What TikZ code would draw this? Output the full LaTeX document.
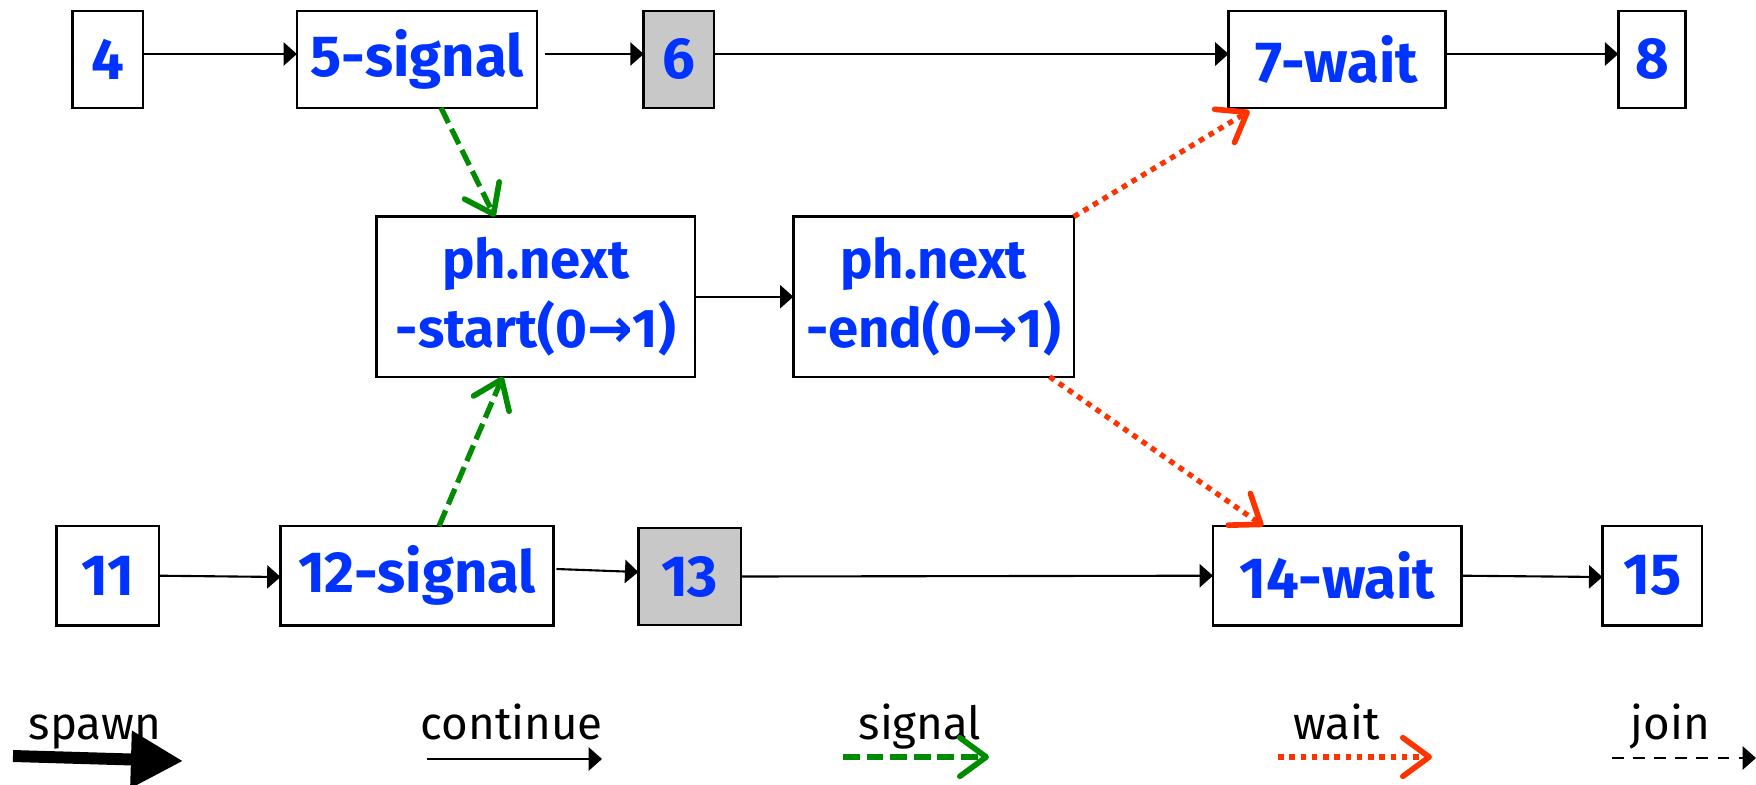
\documentclass[tikz,border=0pt]{standalone}
\usepackage{fontspec}
\setmainfont{Fira Sans}
\newfontfamily\arrowfont{DejaVu Sans}
\usetikzlibrary{arrows.meta}
\definecolor{txtblue}{HTML}{0033FF}
\definecolor{boxgray}{HTML}{C8C8C8}
\definecolor{sigreen}{HTML}{008C00}
\definecolor{waitred}{HTML}{FF3300}
\newcommand{\arr}{{\arrowfont\bfseries →}}
\begin{document}
\begin{tikzpicture}[x=0.01cm,y=-0.01cm,
  box/.style={draw=black,line width=0.7pt,inner sep=0pt,outer sep=0pt,
    minimum height=0.967cm,text=txtblue,
    font=\fontsize{16.5}{19}\selectfont\bfseries},
  midbox/.style={box,minimum height=1.6cm,align=center,
    font=\fontsize{15.5}{19.5}\selectfont\bfseries},
  greybox/.style={box,fill=boxgray},
  cont/.style={draw=black,line width=0.6pt,-{Triangle[length=3.8pt,width=6.6pt]}},
  sig/.style={draw=sigreen,line width=1.5pt,dash pattern=on 4.8pt off 1.9pt,
    -{Straight Barb[length=7.5pt,width=11pt,line width=1.6pt,round]}},
  waitarr/.style={draw=waitred,line width=1.5pt,dash pattern=on 1.6pt off 1.6pt,
    -{Straight Barb[length=7.5pt,width=11pt,line width=1.6pt,round]}},
  joinarr/.style={draw=black,line width=0.6pt,dash pattern=on 3.4pt off 2.6pt,
    -{Triangle[length=3.8pt,width=6.6pt]}},
  spawnarr/.style={draw=black,line width=3.4pt,-{Triangle[length=14.8pt,width=15.5pt]}},
  legend/.style={anchor=base west,inner sep=0pt,font=\fontsize{13}{15}\selectfont}
]
\useasboundingbox (0,0) rectangle (1756,784);

% top row
\node[box,minimum width=0.703cm] (n4) at (107.6,59.4) {4};
\node[box,minimum width=2.40cm] (n5) at (417,59.4) {5-signal};
\node[greybox,minimum width=0.702cm] (n6) at (678.8,59.4) {6};
\node[box,minimum width=2.167cm] (n7) at (1337,59.4) {7-wait};
\node[box,minimum width=0.673cm] (n8) at (1652,59.4) {8};

% middle
\node[midbox,minimum width=3.183cm] (ns) at (535.8,296.7) {ph.next\\-start(0\arr1)};
\node[midbox,minimum width=2.803cm] (ne) at (933.6,296.7) {ph.next\\-end(0\arr1)};

% bottom row
\node[box,minimum width=1.024cm,minimum height=0.993cm] (n11) at (107.6,575.7) {11};
\node[box,minimum width=2.728cm,minimum height=0.993cm] (n12) at (417,575.7) {12-signal};
\node[greybox,minimum width=1.024cm,minimum height=0.97cm] (n13) at (689.6,576.5) {13};
\node[box,minimum width=2.485cm,minimum height=0.993cm] (n14) at (1337.3,575.7) {14-wait};
\node[box,minimum width=0.994cm,minimum height=0.993cm] (n15) at (1652.1,575.7) {15};

% continue arrows
\draw[cont] ([yshift=0.054cm]n4.east) -- ([yshift=0.054cm]n5.west);
\draw[cont] ([xshift=0.08cm,yshift=0.054cm]n5.east) -- ([yshift=0.054cm]n6.west);
\draw[cont] ([yshift=0.054cm]n6.east) -- ([yshift=0.054cm]n7.west);
\draw[cont] ([yshift=0.054cm]n7.east) -- ([yshift=0.054cm]n8.west);
\draw[cont] (ns.east) -- (ne.west);
\draw[cont] (n11.east) -- ([yshift=-0.013cm]n12.west);
\draw[cont] ([xshift=0.03cm,yshift=0.067cm]n12.east) -- ([yshift=0.045cm]n13.west);
\draw[cont] (n13.east) -- (n14.west);
\draw[cont] (n14.east) -- ([yshift=-0.013cm]n15.west);

% signal arrows
\draw[sig] ([xshift=0.24cm]n5.south) -- ([xshift=-0.41cm]ns.north);
\draw[sig] ([xshift=0.22cm]n12.north) -- ([xshift=-0.33cm]ns.south);

% wait arrows
\draw[waitarr] (ne.north east) -- ([xshift=0.21cm,yshift=-0.03cm]n7.south west);
\draw[waitarr] ([xshift=1.16cm]ne.south) -- ([xshift=-0.74cm]n14.north);

% legend
\node[legend] (lspawn) at (28,739) {spawn};
\node[legend] (lcont) at (420,739) {continue};
\node[legend] (lsig) at (858,739) {signal};
\node[legend] (lwait) at (1293,739) {wait};
\node[legend] (ljoin) at (1630,739) {join};

\coordinate (sa) at (13,756);  \coordinate (sb) at (183,761);
\coordinate (ca) at (427,759); \coordinate (cb) at (602,759);
\coordinate (ga) at (843,757); \coordinate (gb) at (989,757);
\coordinate (wa) at (1278,757); \coordinate (wb) at (1432,757);
\coordinate (ja) at (1612,758); \coordinate (jb) at (1756,758);

\draw[spawnarr] (sa) -- (sb);
\draw[cont] (ca) -- (cb);
\draw[sig] (ga) -- (gb);
\draw[waitarr] (wa) -- (wb);
\draw[joinarr] (ja) -- (jb);
\end{tikzpicture}
\end{document}
